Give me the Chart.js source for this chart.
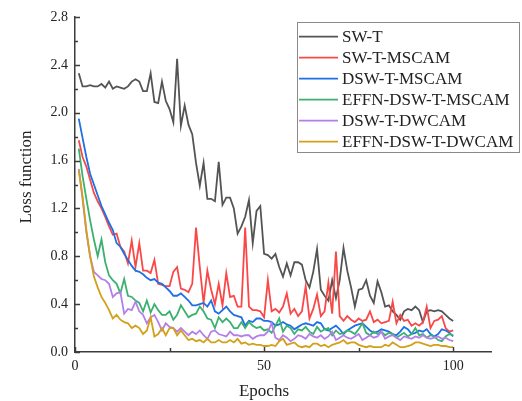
<!DOCTYPE html>
<html>
<head>
<meta charset="utf-8">
<script src="https://cdn.jsdelivr.net/npm/chart.js@4.4.0/dist/chart.umd.min.js"></script>
<style>
html,body{margin:0;padding:0;background:#fff;}
#wrap{position:relative;width:522px;height:401px;}
canvas{display:block;}
</style>
</head>
<body>
<div id="wrap"><canvas id="c" width="522" height="401"></canvas></div>
<script>
// ---------------- data ----------------
const seriesNames = ["SW-T", "SW-T-MSCAM", "DSW-T-MSCAM", "EFFN-DSW-T-MSCAM", "DSW-T-DWCAM", "EFFN-DSW-T-DWCAM"];
const seriesColors = ["#545454", "#fa4848", "#1f6fe5", "#3bb170", "#b47fe9", "#d3a01a"];

const epochCount = 100;
const yTickStep = 0.4;
const xTickStep = 50;

const swT = [2.33,2.22,2.22,2.23,2.22,2.22,2.24,2.21,2.26,2.20,2.22,2.21,2.20,2.22,2.26,2.28,2.26,2.18,2.18,2.33,
  2.09,2.08,2.26,2.10,2.03,1.92,2.45,1.89,2.06,1.90,1.82,1.58,1.39,1.58,1.28,1.28,1.26,1.59,1.23,1.29,
  1.29,1.20,0.99,1.05,1.13,1.27,0.91,1.18,1.22,0.82,
  0.81,0.78,0.82,0.71,0.63,0.74,0.64,0.75,0.75,0.73,0.60,0.54,0.67,0.86,0.52,0.47,0.43,0.60,0.45,0.60,
  0.87,0.68,0.54,0.38,0.52,0.53,0.60,0.47,0.41,0.59,0.50,0.38,0.39,0.34,0.31,0.27,0.34,0.36,0.35,0.38,
  0.35,0.25,0.34,0.35,0.34,0.35,0.34,0.31,0.28,0.26];

const swtMscam = [1.77,1.63,1.55,1.44,1.33,1.26,1.20,1.13,1.05,0.98,0.99,0.88,0.84,0.74,0.93,0.71,0.91,0.68,0.68,0.66,
  0.77,0.57,0.56,0.55,0.55,0.67,0.71,0.53,0.52,0.50,0.57,1.04,0.71,0.41,0.68,0.52,0.40,0.57,0.39,0.66,
  0.46,0.47,0.38,0.38,1.04,0.38,0.35,0.35,0.34,0.29,
  0.60,0.34,0.36,0.33,0.38,0.49,0.32,0.36,0.30,0.34,0.55,0.28,0.36,0.48,0.30,0.34,0.58,0.32,0.84,0.30,
  0.26,0.30,0.27,0.25,0.28,0.26,0.27,0.34,0.25,0.27,0.24,0.25,0.26,0.42,0.24,0.31,0.26,0.27,0.22,0.24,
  0.22,0.25,0.38,0.20,0.26,0.27,0.30,0.20,0.17,0.18];

const dswtMscam = [1.95,1.79,1.63,1.49,1.40,1.31,1.22,1.15,1.08,1.02,0.91,0.88,0.82,0.77,0.72,0.68,0.67,0.65,0.62,0.60,
  0.61,0.58,0.57,0.54,0.51,0.47,0.47,0.49,0.46,0.43,0.39,0.39,0.40,0.41,0.38,0.43,0.34,0.32,0.35,0.38,
  0.34,0.31,0.30,0.29,0.22,0.26,0.25,0.28,0.28,0.26,
  0.26,0.25,0.22,0.23,0.25,0.23,0.22,0.19,0.21,0.23,0.24,0.23,0.22,0.25,0.24,0.19,0.18,0.20,0.22,0.19,
  0.15,0.18,0.20,0.22,0.23,0.24,0.21,0.18,0.16,0.17,0.19,0.18,0.17,0.15,0.14,0.17,0.21,0.19,0.15,0.16,
  0.18,0.17,0.19,0.15,0.13,0.15,0.19,0.18,0.16,0.13];

const effnDswtMscam = [1.70,1.47,1.28,1.10,0.94,0.80,0.94,0.75,0.64,0.60,0.57,0.49,0.61,0.47,0.46,0.43,0.41,0.34,0.43,0.33,
  0.40,0.35,0.31,0.31,0.34,0.27,0.31,0.39,0.34,0.29,0.31,0.32,0.38,0.34,0.28,0.27,0.20,0.29,0.25,0.28,
  0.25,0.20,0.20,0.25,0.20,0.25,0.22,0.20,0.21,0.18,
  0.19,0.16,0.22,0.28,0.17,0.22,0.20,0.15,0.19,0.18,0.21,0.17,0.15,0.21,0.17,0.19,0.20,0.14,0.18,0.15,
  0.16,0.18,0.17,0.15,0.19,0.24,0.16,0.14,0.17,0.15,0.17,0.14,0.16,0.15,0.12,0.14,0.16,0.13,0.15,0.20,
  0.14,0.15,0.12,0.14,0.13,0.10,0.09,0.13,0.15,0.14];

const dswtDwcam = [1.53,1.28,1.00,0.80,0.67,0.64,0.61,0.60,0.57,0.46,0.49,0.50,0.32,0.36,0.35,0.42,0.34,0.31,0.24,0.29,
  0.31,0.25,0.18,0.24,0.21,0.20,0.17,0.20,0.17,0.14,0.17,0.15,0.18,0.14,0.11,0.17,0.18,0.15,0.14,0.13,
  0.17,0.14,0.14,0.13,0.14,0.14,0.11,0.13,0.14,0.14,
  0.17,0.24,0.12,0.10,0.14,0.12,0.09,0.11,0.14,0.13,0.11,0.15,0.13,0.12,0.14,0.11,0.13,0.17,0.10,0.12,
  0.14,0.12,0.11,0.13,0.15,0.10,0.12,0.14,0.12,0.13,0.17,0.11,0.13,0.14,0.12,0.10,0.13,0.12,0.11,0.13,
  0.12,0.14,0.12,0.11,0.12,0.13,0.11,0.12,0.10,0.09];

const effnDswtDwcam = [1.52,1.30,1.02,0.80,0.63,0.54,0.46,0.41,0.35,0.28,0.31,0.27,0.25,0.24,0.20,0.22,0.20,0.15,0.18,0.29,
  0.13,0.15,0.20,0.14,0.20,0.20,0.14,0.18,0.14,0.10,0.11,0.09,0.10,0.08,0.11,0.08,0.08,0.10,0.08,0.08,
  0.10,0.08,0.11,0.07,0.08,0.06,0.07,0.06,0.06,0.05,
  0.05,0.06,0.05,0.09,0.11,0.06,0.07,0.08,0.05,0.04,0.05,0.04,0.07,0.07,0.05,0.06,0.04,0.06,0.07,0.08,
  0.10,0.07,0.08,0.08,0.06,0.05,0.04,0.05,0.04,0.04,0.04,0.06,0.05,0.08,0.06,0.04,0.04,0.05,0.06,0.08,
  0.08,0.07,0.06,0.05,0.06,0.06,0.05,0.05,0.04,0.04];

const allSeries = [swT, swtMscam, dswtMscam, effnDswtMscam, dswtDwcam, effnDswtDwcam];
const epochs = [];
for (let i = 1; i <= epochCount; i++) epochs.push(i);

// ---------------- style ----------------
const FONT = '"Liberation Serif", "Times New Roman", serif';
const AXIS_COLOR = '#3c3c3c';
const TEXT_COLOR = '#222';

const datasets = seriesNames.map((name, i) => ({
  label: name,
  data: epochs.map((e, k) => ({x: e, y: allSeries[i][k]})),
  borderColor: seriesColors[i],
  backgroundColor: seriesColors[i],
  borderWidth: 1.8,
  pointRadius: 0,
  tension: 0,
  fill: false,
  order: seriesNames.length - i
}));

const decorPlugin = {
  id: 'decor',
  afterDraw(chart) {
    const ctx = chart.ctx;
    const xs = chart.scales.x, ys = chart.scales.y;
    const area = chart.chartArea;
    ctx.save();
    ctx.strokeStyle = AXIS_COLOR;
    ctx.lineWidth = 1.5;
    // inward y ticks (major + minor)
    const yVals = ys.ticks.map(t => t.value);
    yVals.forEach((v, i) => {
      const p = Math.round(ys.getPixelForValue(v)) + 0.5;
      ctx.beginPath(); ctx.moveTo(area.left, p); ctx.lineTo(area.left + 5, p); ctx.stroke();
      if (i < yVals.length - 1) {
        const m = Math.round(ys.getPixelForValue((v + yVals[i + 1]) / 2)) + 0.5;
        ctx.beginPath(); ctx.moveTo(area.left, m); ctx.lineTo(area.left + 3, m); ctx.stroke();
      }
    });
    // inward x ticks
    const xVals = xs.ticks.map(t => t.value);
    xVals.forEach((v, i) => {
      const p = Math.round(xs.getPixelForValue(v)) + 0.5;
      ctx.beginPath(); ctx.moveTo(p, area.bottom); ctx.lineTo(p, area.bottom - 5); ctx.stroke();
      if (i < xVals.length - 1) {
        const m = Math.round(xs.getPixelForValue((v + xVals[i + 1]) / 2)) + 0.5;
        ctx.beginPath(); ctx.moveTo(m, area.bottom); ctx.lineTo(m, area.bottom - 4); ctx.stroke();
      }
    });
    // axis titles
    ctx.fillStyle = TEXT_COLOR;
    ctx.font = '17px ' + FONT;
    ctx.textAlign = 'center';
    ctx.textBaseline = 'alphabetic';
    ctx.fillText('Epochs', 264, 396);
    ctx.save();
    ctx.translate(27, 177);
    ctx.rotate(-Math.PI / 2);
    ctx.textBaseline = 'middle';
    ctx.fillText('Loss function', 0, 0);
    ctx.restore();
    // legend
    const lx = 297.5, ly = 22.5, lw = 222, lh = 130;
    ctx.strokeStyle = '#8a8a8a';
    ctx.lineWidth = 1;
    ctx.strokeRect(lx, ly, lw, lh);
    ctx.font = '17px ' + FONT;
    ctx.textAlign = 'left';
    ctx.textBaseline = 'middle';
    chart.data.datasets.forEach((ds, i) => {
      const cy = 36.7 + i * 21;
      ctx.strokeStyle = ds.borderColor;
      ctx.lineWidth = 1.8;
      ctx.beginPath(); ctx.moveTo(299, cy); ctx.lineTo(338, cy); ctx.stroke();
      ctx.fillStyle = TEXT_COLOR;
      ctx.fillText(ds.label, 342, cy + 0.5);
    });
    ctx.restore();
  }
};

new Chart(document.getElementById('c'), {
  type: 'line',
  data: { datasets },
  options: {
    responsive: false,
    animation: false,
    devicePixelRatio: 1,
    layout: { padding: { top: 17, right: 31, left: 0, bottom: 0 } },
    plugins: { legend: { display: false }, tooltip: { enabled: false } },
    scales: {
      x: {
        type: 'linear',
        min: 0, max: 110,
        afterBuildTicks: (s) => { s.ticks = s.ticks.filter(t => t.value % xTickStep === 0); },
        afterFit: (s) => { s.height = 49; },
        ticks: { stepSize: xTickStep, padding: 6, color: TEXT_COLOR, font: { family: FONT, size: 14 }, maxRotation: 0 },
        grid: { display: false, drawTicks: false },
        border: { display: true, color: AXIS_COLOR, width: 1.5 }
      },
      y: {
        type: 'linear',
        min: 0, max: 2.8,
        afterFit: (s) => { s.width = 75; },
        ticks: { stepSize: yTickStep, padding: 7, color: TEXT_COLOR, font: { family: FONT, size: 14 },
                 callback: (v) => Number(v).toFixed(1) },
        grid: { display: false, drawTicks: false },
        border: { display: true, color: AXIS_COLOR, width: 1.5 }
      }
    }
  },
  plugins: [decorPlugin]
});
</script>
</body>
</html>
